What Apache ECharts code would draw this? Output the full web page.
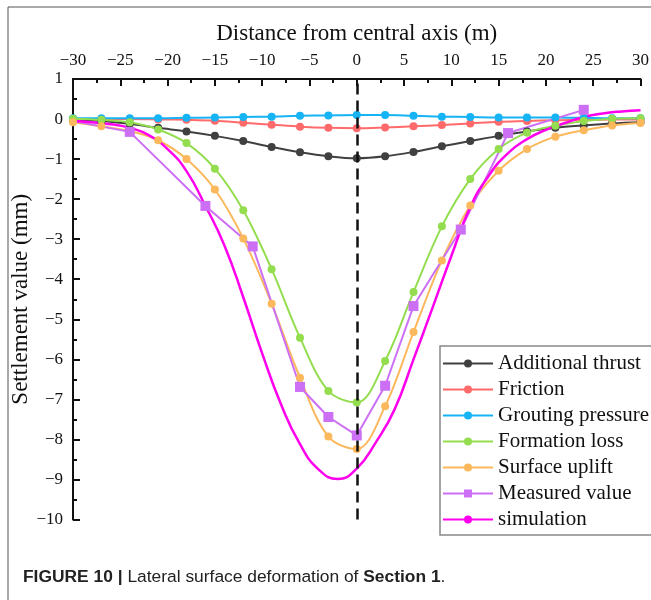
<!DOCTYPE html>
<html>
<head>
<meta charset="utf-8">
<script src="https://cdn.jsdelivr.net/npm/echarts@6/dist/echarts.min.js"></script>
<style>
  html, body { margin: 0; padding: 0; background: #fff; }
  #chart { width: 651px; height: 600px; }
</style>
</head>
<body>
<div id="chart"></div>
<script>
// distance from central axis (m), every 3 m
const distance = [-30, -27, -24, -21, -18, -15, -12, -9, -6, -3, 0, 3, 6, 9, 12, 15, 18, 21, 24, 27, 30];
const additionalThrust = [-0.02, -0.05, -0.12, -0.22, -0.31, -0.42, -0.55, -0.7, -0.83, -0.93, -0.98, -0.93, -0.82, -0.68, -0.55, -0.42, -0.31, -0.22, -0.16, -0.11, -0.08];
const friction = [0, 0, 0, -0.01, -0.02, -0.04, -0.09, -0.14, -0.19, -0.22, -0.23, -0.21, -0.18, -0.15, -0.11, -0.07, -0.05, -0.03, -0.02, -0.01, -0.01];
const groutingPressure = [0.02, 0.02, 0.02, 0.02, 0.03, 0.04, 0.05, 0.06, 0.08, 0.09, 0.1, 0.1, 0.08, 0.06, 0.05, 0.04, 0.04, 0.04, 0.03, 0.02, 0.02];
const formationLoss = [0.01, -0.02, -0.08, -0.26, -0.6, -1.24, -2.28, -3.75, -5.46, -6.79, -7.08, -6.04, -4.32, -2.68, -1.5, -0.75, -0.34, -0.17, -0.05, 0.01, 0.02];
const surfaceUplift = [-0.08, -0.18, -0.3, -0.53, -1.0, -1.76, -2.98, -4.61, -6.46, -7.93, -8.24, -7.17, -5.32, -3.53, -2.16, -1.29, -0.75, -0.44, -0.28, -0.16, -0.1];
// measured points
const measuredX = [-30, -24, -16, -11, -6, -3, 0, 3, 6, 11, 16, 24];
const measuredValue = [-0.05, -0.32, -2.17, -3.18, -6.69, -7.44, -7.9, -6.66, -4.67, -2.76, -0.35, 0.23];
// numerical simulation curve, read every 2 m
const simulationX = [-30, -28, -26, -24, -22, -20, -18, -16, -14, -12, -10, -8, -6, -4, -2, 0, 2, 4, 6, 8, 10, 12, 14, 16, 18, 20, 22, 24, 26, 28, 30];
const simulationValue = [-0.05, -0.08, -0.13, -0.22, -0.4, -0.75, -1.3, -2.17, -3.15, -4.45, -5.85, -7.13, -8.12, -8.76, -8.99, -8.73, -8.08, -7.25, -6.0, -4.72, -3.42, -2.2, -1.4, -0.85, -0.5, -0.27, -0.1, 0.05, 0.14, 0.19, 0.22];
const centralAxis = 0;

const serif = 'Liberation Serif';
const minus = v => String(v).replace('-', '\u2212');
const pairs = (xs, ys) => xs.map((x, i) => [x, ys[i]]);

const chart = echarts.init(document.getElementById('chart'));

function dotSeries(name, values, color) {
  return {
    name: name,
    type: 'line',
    smooth: 0.35,
    data: pairs(distance, values),
    symbol: 'circle',
    symbolSize: 8,
    color: color,
    lineStyle: { width: 2, color: color },
    itemStyle: { color: color }
  };
}

chart.setOption({
  animation: false,
  title: {
    text: '{b|FIGURE 10 |} Lateral surface deformation of {b|Section 1}.',
    left: 18,
    top: 564,
    textStyle: {
      fontFamily: 'Liberation Sans',
      fontSize: 17.4,
      fontWeight: 'normal',
      color: '#222',
      rich: {
        b: { fontFamily: 'Liberation Sans', fontSize: 17.4, fontWeight: 'bold', color: '#222' }
      }
    }
  },
  graphic: [{
    type: 'rect',
    silent: true,
    z: -10,
    shape: { x: 8, y: 7, width: 700, height: 700 },
    style: { fill: 'none', stroke: '#555', lineWidth: 1 }
  }],
  legend: {
    orient: 'vertical',
    left: 440,
    top: 346,
    padding: [7, 14, 5, 2],
    borderColor: '#888',
    borderWidth: 1.5,
    itemWidth: 50,
    itemHeight: 10,
    itemGap: 5,
    textStyle: { fontFamily: serif, fontSize: 21, lineHeight: 21, color: '#111' },
    data: ['Additional thrust', 'Friction', 'Grouting pressure', 'Formation loss', 'Surface uplift', 'Measured value', 'simulation']
  },
  grid: { left: 73, top: 79, right: 10.5, bottom: 80.5, outerBoundsMode: 'none' },
  xAxis: {
    type: 'value',
    position: 'top',
    min: -30,
    max: 30,
    interval: 5,
    name: 'Distance from central axis (m)',
    nameLocation: 'middle',
    nameGap: 34,
    nameMoveOverlap: false,
    nameTextStyle: { fontFamily: serif, fontSize: 23, color: '#111' },
    axisLine: { onZero: false, lineStyle: { color: '#111', width: 2 } },
    axisTick: { inside: true, length: 7, lineStyle: { color: '#111', width: 2 } },
    minorTick: { show: true, splitNumber: 2, length: 4, lineStyle: { color: '#111', width: 2 } },
    splitLine: { show: false },
    axisLabel: { fontFamily: serif, fontSize: 17, color: '#111', margin: 10, formatter: minus }
  },
  yAxis: {
    type: 'value',
    min: -10,
    max: 1,
    interval: 1,
    name: 'Settlement value (mm)',
    nameLocation: 'middle',
    nameRotate: 90,
    nameGap: 41,
    nameMoveOverlap: false,
    nameTextStyle: { fontFamily: serif, fontSize: 23, color: '#111' },
    axisLine: { show: true, onZero: false, lineStyle: { color: '#111', width: 2 } },
    axisTick: { show: true, inside: true, length: 7, lineStyle: { color: '#111', width: 2 } },
    minorTick: { show: true, splitNumber: 2, length: 4, lineStyle: { color: '#111', width: 2 } },
    splitLine: { show: false },
    axisLabel: { fontFamily: serif, fontSize: 17, color: '#111', margin: 10, formatter: minus }
  },
  series: [
    dotSeries('Additional thrust', additionalThrust, '#404040'),
    dotSeries('Friction', friction, '#ff6b6b'),
    dotSeries('Grouting pressure', groutingPressure, '#17b4f5'),
    dotSeries('Formation loss', formationLoss, '#93dd4f'),
    dotSeries('Surface uplift', surfaceUplift, '#fbb85c'),
    {
      name: 'Measured value',
      type: 'line',
      data: measuredX.map((x, i) => ({
        value: [x, measuredValue[i]],
        symbol: i === 0 ? 'none' : 'rect'
      })),
      symbol: 'rect',
      symbolSize: 10,
      color: '#cc6ff5',
      lineStyle: { width: 2, color: '#cc6ff5' },
      itemStyle: { color: '#cc6ff5' }
    },
    {
      name: 'simulation',
      type: 'line',
      smooth: 0.5,
      data: pairs(simulationX, simulationValue),
      symbol: 'none',
      color: '#ff00ee',
      lineStyle: { width: 2.5, color: '#ff00ee' },
      markLine: {
        silent: true,
        symbol: 'none',
        label: { show: false },
        lineStyle: { color: '#111', width: 2.5, type: [11, 6] },
        data: [{ xAxis: centralAxis }]
      }
    }
  ]
});
</script>
</body>
</html>
